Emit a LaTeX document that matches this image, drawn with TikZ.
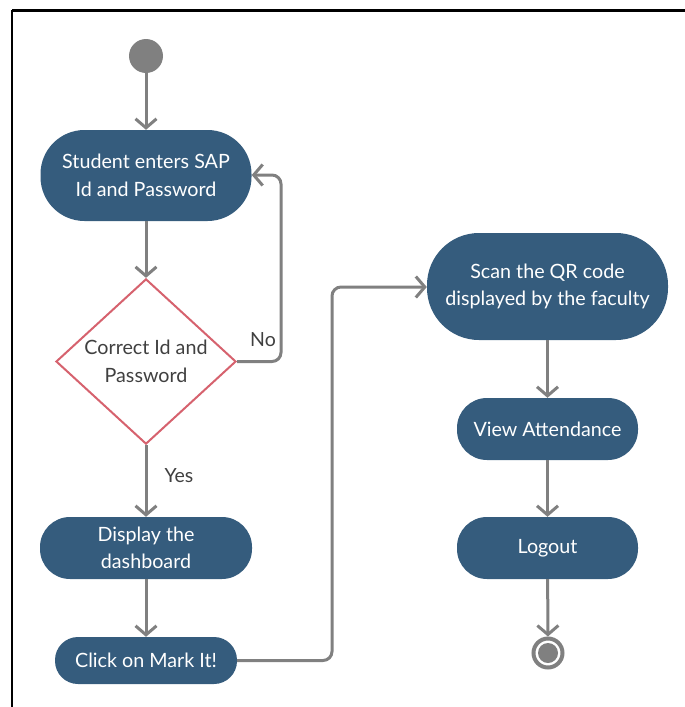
\documentclass[tikz,border=0pt]{standalone}
\usepackage{fontspec}
\setmainfont{Lato}
\usetikzlibrary{arrows.meta,shapes.geometric}
\definecolor{nodeblue}{RGB}{53,92,125}
\definecolor{linegray}{RGB}{128,128,128}
\definecolor{diared}{RGB}{214,98,110}
\definecolor{txtgray}{RGB}{64,64,64}
\tikzset{
  act/.style={rectangle, fill=nodeblue, text=white, align=center, inner sep=0pt,
    font=\fontsize{19.7}{27.5}\selectfont},
  decision/.style={diamond, draw=diared, line width=2pt, fill=white, text=txtgray,
    align=center, inner sep=0pt, font=\fontsize{19.7}{27.5}\selectfont},
  flow/.style={draw=linegray, line width=3pt, rounded corners=9pt,
    -{Straight Barb[length=9pt,width=21pt,line width=3pt]}},
  lbl/.style={text=txtgray, font=\fontsize{19.5}{22}\selectfont, inner sep=0pt},
}
\begin{document}
\begin{tikzpicture}[x=1pt,y=-1pt]
\useasboundingbox (0,0) rectangle (685,707);
% frame
\draw[black, line width=3pt] (12,10) -- (690,10);
\draw[black, line width=2.5pt] (12,10) -- (12,712);

\node[circle, fill=linegray, minimum size=34pt, inner sep=0pt] (start) at (146,56) {};
\node[act, minimum width=211pt, minimum height=91pt, rounded corners=44pt] (enter) at (146,175.5) {Student enters SAP\\Id and Password};
\node[decision, minimum width=180pt, minimum height=163pt] (check) at (146,361.5) {Correct Id and\\Password};
\node[act, minimum width=212pt, minimum height=62pt, rounded corners=30pt] (dash) at (146,548) {Display the\\dashboard};
\node[act, minimum width=182pt, minimum height=47pt, rounded corners=23pt] (mark) at (146,660.5) {Click on Mark It!};
\node[act, minimum width=241pt, minimum height=107pt, rounded corners=52pt] (scan) at (547.5,286.5) {Scan the QR code\\displayed by the faculty};
\node[act, minimum width=181pt, minimum height=62pt, rounded corners=30pt] (view) at (547.5,429) {View Attendance};
\node[act, minimum width=181pt, minimum height=62pt, rounded corners=30pt] (logout) at (547.5,548) {Logout};
\node[circle, draw=linegray, line width=4pt, minimum size=29pt, inner sep=0pt] (end) at (548,653) {};
\fill[linegray] (end.center) circle (10pt);

\coordinate (nocorner) at (281,361.5);
\coordinate (nocorner2) at (281,175);
\coordinate (c1) at (332,660.5);
\coordinate (c2) at (332,287);

\draw[flow] (start) -- (enter);
\draw[flow] (enter) -- (check);
\draw[flow] (check.east) -- (nocorner) -- (nocorner2) -- (enter.east |- nocorner2);
\draw[flow] (check) -- node[lbl, right=17pt, pos=0.42] {Yes} (dash);
\draw[flow] (dash) -- (mark);
\draw[flow] (mark.east) -- (c1) -- (c2) -- (scan.west |- c2);
\draw[flow] (scan) -- (view);
\draw[flow] (view) -- (logout);
\draw[flow] (logout) -- (end);
\node[lbl] (nolbl) at (263,340) {No};
\end{tikzpicture}
\end{document}
